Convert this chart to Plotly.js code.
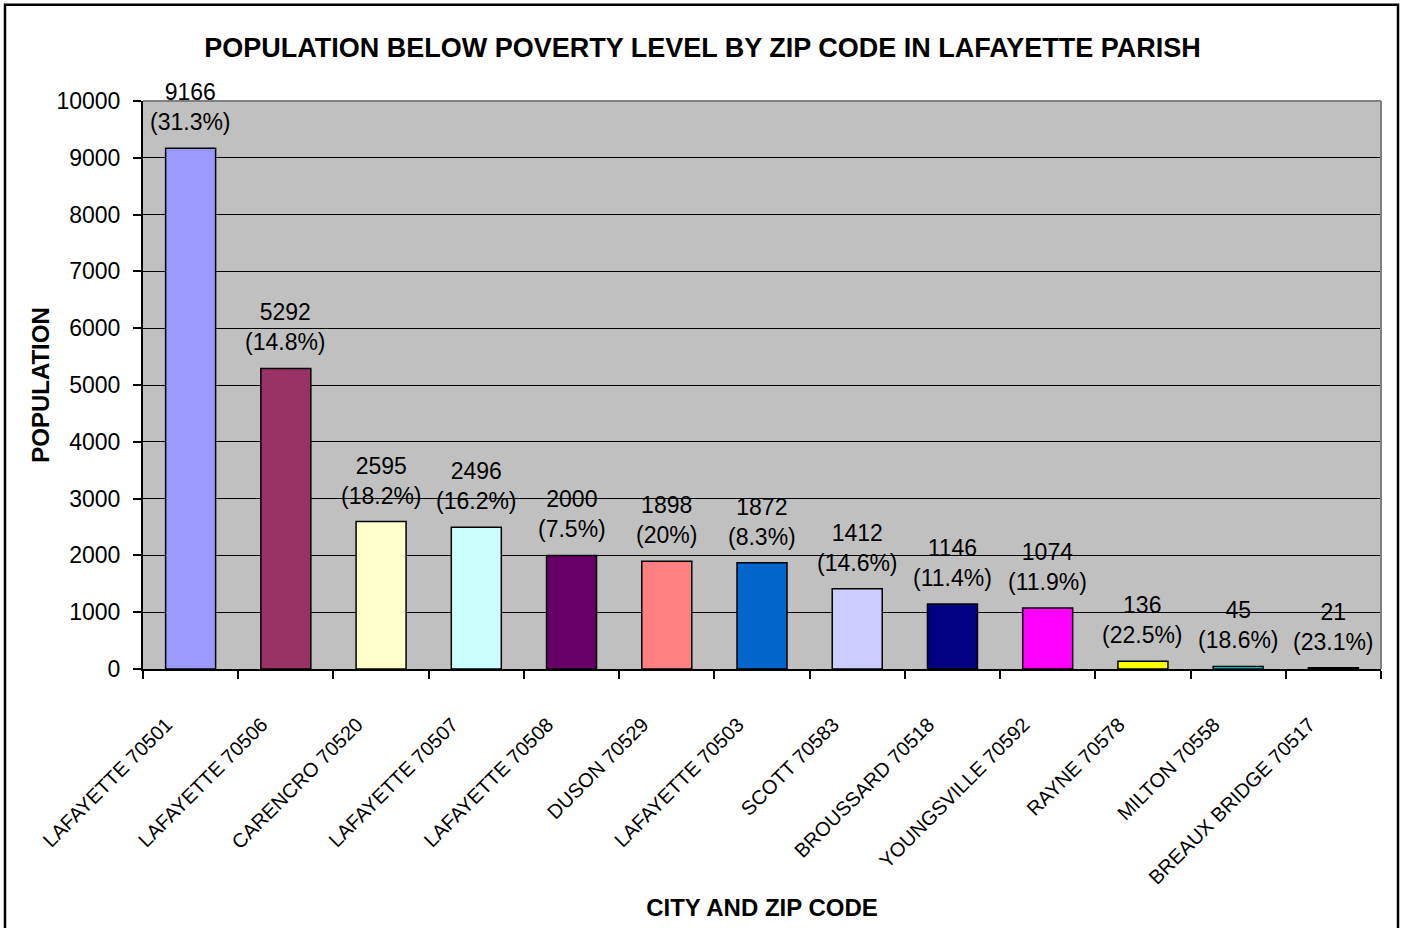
<!DOCTYPE html>
<html>
<head>
<meta charset="utf-8">
<script src="https://cdn.plot.ly/plotly-3.0.1.min.js"></script>
<style>
  html, body { margin: 0; padding: 0; background: #ffffff; }
  #chart { width: 1405px; height: 928px; }
</style>
</head>
<body>
<div id="chart"></div>
<script>
// ---- data ----
const categories = [
  "LAFAYETTE 70501", "LAFAYETTE 70506", "CARENCRO 70520", "LAFAYETTE 70507",
  "LAFAYETTE 70508", "DUSON 70529", "LAFAYETTE 70503", "SCOTT 70583",
  "BROUSSARD 70518", "YOUNGSVILLE 70592", "RAYNE 70578", "MILTON 70558",
  "BREAUX BRIDGE 70517"
];
const population = [9166, 5292, 2595, 2496, 2000, 1898, 1872, 1412, 1146, 1074, 136, 45, 21];
const percentBelow = ["31.3%", "14.8%", "18.2%", "16.2%", "7.5%", "20%", "8.3%", "14.6%", "11.4%", "11.9%", "22.5%", "18.6%", "23.1%"];
const barColors = [
  "#9999FF", "#993366", "#FFFFCC", "#CCFFFF", "#660066", "#FF8080", "#0066CC",
  "#CCCCFF", "#000080", "#FF00FF", "#FFFF00", "#00FFFF", "#800080"
];
const yTickValues = [0, 1000, 2000, 3000, 4000, 5000, 6000, 7000, 8000, 9000, 10000];

const FONT = "Liberation Sans, Arial, Helvetica, sans-serif";

const trace = {
  type: "bar",
  x: categories,
  y: population,
  marker: { color: barColors, line: { color: "#000000", width: 1.5 } },
  hoverinfo: "x+y",
  cliponaxis: false
};

const labelAnnotations = categories.map((c, i) => ({
  x: c,
  y: population[i],
  xref: "x",
  yref: "y",
  text: population[i] + "<br>(" + percentBelow[i] + ")",
  showarrow: false,
  yanchor: "bottom",
  yshift: 11,
  font: { family: FONT, size: 23, color: "#000000" }
}));

const layout = {
  width: 1405,
  height: 928,
  margin: { l: 143, r: 24, t: 101, b: 259, autoexpand: false },
  paper_bgcolor: "#ffffff",
  plot_bgcolor: "#C0C0C0",
  showlegend: false,
  bargap: 0.475,
  font: { family: FONT, color: "#000000" },
  title: {
    text: "<b>POPULATION BELOW POVERTY LEVEL BY ZIP CODE IN LAFAYETTE PARISH</b>",
    font: { family: FONT, size: 27, color: "#000000" },
    xref: "container", yref: "container",
    x: 0.5, xanchor: "center",
    y: 1 - 48 / 928, yanchor: "middle"
  },
  xaxis: {
    type: "category",
    tickson: "boundaries",
    ticks: "outside",
    ticklen: 8,
    tickwidth: 2,
    tickcolor: "#000000",
    tickangle: -45,
    ticklabelstandoff: 34,
    ticklabelshift: -24,
    tickfont: { family: FONT, size: 20, color: "#000000" },
    showline: true,
    linecolor: "#000000",
    linewidth: 2,
    showgrid: false,
    zeroline: false,
    automargin: false,
    title: {
      text: "<b>CITY AND ZIP CODE</b>",
      font: { family: FONT, size: 24, color: "#000000" },
      standoff: 12
    }
  },
  yaxis: {
    range: [0, 10000],
    tickvals: yTickValues,
    ticktext: yTickValues.map(String),
    ticks: "outside",
    ticklen: 8,
    tickwidth: 2,
    tickcolor: "#000000",
    ticklabelstandoff: 8,
    tickfont: { family: FONT, size: 23, color: "#000000" },
    showline: true,
    linecolor: "#000000",
    linewidth: 2,
    showgrid: true,
    gridcolor: "#000000",
    gridwidth: 1,
    zeroline: false,
    automargin: false,
    title: {
      text: "<b>POPULATION</b>",
      font: { family: FONT, size: 24, color: "#000000" },
      standoff: 0
    }
  },
  annotations: labelAnnotations,
  shapes: [
    // plot-area border (top and right, gray)
    { type: "line", xref: "paper", yref: "paper", x0: 0, x1: 1, y0: 1, y1: 1,
      line: { color: "#808080", width: 2 } },
    { type: "line", xref: "paper", yref: "paper", x0: 1, x1: 1, y0: 0, y1: 1,
      line: { color: "#808080", width: 2 } },
    // outer chart border
    { type: "rect", xref: "paper", yref: "paper",
      x0: (5 - 143) / 1238, x1: (1398 - 143) / 1238,
      y0: (668 - 935) / 567, y1: (668 - 5) / 567,
      line: { color: "#000000", width: 2.5 }, fillcolor: "rgba(0,0,0,0)" }
  ]
};

Plotly.newPlot("chart", [trace], layout, { displayModeBar: false, staticPlot: true });
</script>
</body>
</html>
